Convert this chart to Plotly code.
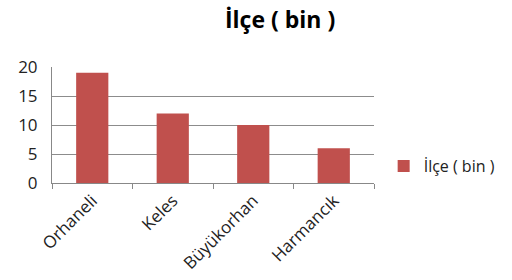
import plotly.graph_objects as go

categories = ["Orhaneli", "Keles", "Büyükorhan", "Harmancık"]
values = [19, 12, 10, 6]
series_name = "İlçe ( bin )"
title_text = "İlçe ( bin )"

fig = go.Figure()
fig.add_trace(go.Bar(
    x=categories, y=values, name=series_name,
    marker=dict(color="#C0504D", line=dict(width=0)),
    showlegend=True,
))

fig.update_layout(
    width=512, height=280,
    margin=dict(l=52, r=134, t=67, b=97),
    paper_bgcolor="white", plot_bgcolor="white",
    font=dict(family="Open Sans, Liberation Sans, sans-serif", color="#222222", size=14),
    title=dict(text="<b>" + title_text + "</b>", x=0.547, xanchor="center", y=0.93, yanchor="middle",
               font=dict(size=23, color="black")),
    bargap=0.6,
    showlegend=True,
    legend=dict(x=1.03, y=0.145, xanchor="left", yanchor="middle", font=dict(size=16),
                bgcolor="rgba(0,0,0,0)", itemwidth=30),
)
fig.update_xaxes(
    showgrid=False, showline=True, linecolor="#888888", linewidth=1,
    ticks="outside", tickson="boundaries", ticklen=5, tickcolor="#888888",
    tickangle=-45, tickfont=dict(size=17), automargin=False,
)
fig.update_yaxes(
    range=[0, 20], dtick=5, showgrid=True, gridcolor="#8c8c8c", gridwidth=1,
    showline=True, linecolor="#888888", zeroline=False,
    ticks="", tickfont=dict(size=17), automargin=False, ticklabelstandoff=10,
)

fig.write_html("out.html", config={"displayModeBar": False},
               post_script="document.body.style.margin='0';")
